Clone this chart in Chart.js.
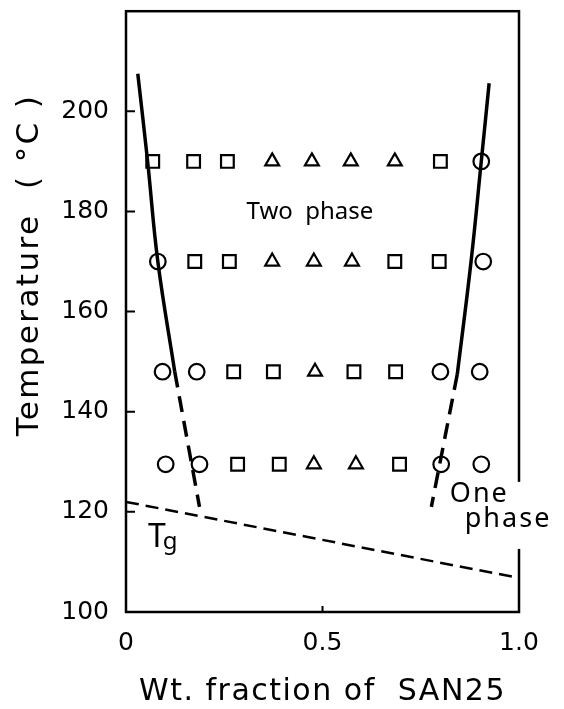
<!doctype html>
<html>
<head>
<meta charset="UTF-8">
<script src="https://cdn.jsdelivr.net/npm/chart.js@4/dist/chart.umd.min.js"></script>
<title>Phase diagram SAN25</title>
<style>
body { margin:0; background:#fff; }
#wrap { width:564px; height:709px; }
</style>
</head>
<body>
<div id="wrap"><canvas id="PhaseChart" width="564" height="709"></canvas></div>
<script>

// measured points, x = wt. fraction of SAN25, y = temperature (C)
var twoPhaseSquares = [
  {x:0.068,y:190},{x:0.172,y:190},{x:0.258,y:190},{x:0.800,y:190},
  {x:0.175,y:170},{x:0.263,y:170},{x:0.684,y:170},{x:0.797,y:170},
  {x:0.274,y:148},{x:0.375,y:148},{x:0.580,y:148},{x:0.686,y:148},
  {x:0.284,y:129.5},{x:0.390,y:129.5},{x:0.696,y:129.5}
];
var twoPhaseTriangles = [
  {x:0.372,y:190},{x:0.473,y:190},{x:0.572,y:190},{x:0.684,y:190},
  {x:0.372,y:170},{x:0.478,y:170},{x:0.575,y:170},
  {x:0.481,y:148},
  {x:0.478,y:129.5},{x:0.585,y:129.5}
];
var onePhaseCircles = [
  {x:0.904,y:190},
  {x:0.081,y:170},{x:0.909,y:170},
  {x:0.093,y:148},{x:0.180,y:148},{x:0.800,y:148},{x:0.900,y:148},
  {x:0.101,y:129.5},{x:0.187,y:129.5},{x:0.802,y:129.5},{x:0.904,y:129.5}
];

// cloud point curves
var leftSolid  = [{x:0.030,y:207.5},{x:0.055,y:190},{x:0.081,y:170},{x:0.124,y:148}];
var leftDash   = [{x:0.124,y:148},{x:0.187,y:121}];
var rightSolid = [{x:0.924,y:205.6},{x:0.904,y:190},{x:0.878,y:170},{x:0.843,y:147.5}];
var rightDash  = [{x:0.843,y:147.5},{x:0.777,y:121}];
var tgLine     = [{x:0,y:122},{x:1,y:106.8}];

var yTicks = [100,120,140,160,180,200];
var xTicks = [0,0.5,1];
var xTickLabels = ['0','0.5','1.0'];

var FONT = "'DejaVu Sans', sans-serif";
var FONT2 = "'Noto Sans', sans-serif";

// frame, inward ticks, text labels
var extras = {
  id: 'extras',
  afterDraw: function(chart) {
    var c = chart.ctx, a = chart.chartArea;
    var xs = chart.scales.x, ys = chart.scales.y;
    c.save();
    c.strokeStyle = '#000';
    c.lineWidth = 2.5;
    c.strokeRect(a.left, a.top, a.right - a.left, a.bottom - a.top);
    c.lineWidth = 2;
    c.beginPath();
    yTicks.forEach(function(v) {
      var py = ys.getPixelForValue(v);
      c.moveTo(a.left, py); c.lineTo(a.left + 9, py);
    });
    xTicks.forEach(function(v) {
      var px = xs.getPixelForValue(v);
      c.moveTo(px, a.bottom); c.lineTo(px, a.bottom - 6);
    });
    c.stroke();

    c.fillStyle = '#000';
    c.textBaseline = 'alphabetic';
    c.font = '24px ' + FONT2;
    c.textAlign = 'center';
    c.fillText('Two  phase', xs.getPixelForValue(0.468), ys.getPixelForValue(178.5));

    // One phase label sits on a white patch over the right frame
    var ox = xs.getPixelForValue(0.824), oy = ys.getPixelForValue(122);
    var px2 = xs.getPixelForValue(0.862), py2 = ys.getPixelForValue(117);
    c.font = '27px ' + FONT2;
    c.letterSpacing = '2px';
    c.textAlign = 'left';
    var w = c.measureText('phase').width;
    c.fillStyle = '#fff';
    c.fillRect(ox - 3, oy - 20, px2 + w - ox + 8, py2 - oy + 42);
    c.fillStyle = '#000';
    c.fillText('One', ox, oy);
    c.fillText('phase', px2, py2);
    c.letterSpacing = '0px';

    // T with subscript g
    var tx = xs.getPixelForValue(0.056), ty = ys.getPixelForValue(113);
    c.font = '32px ' + FONT2;
    c.fillText('T', tx, ty);
    var tw = c.measureText('T').width;
    c.font = '24px ' + FONT2;
    c.fillText('g', tx + tw - 3, ty + 2);

    // x axis title
    c.font = '30px ' + FONT;
    c.letterSpacing = '1.5px';
    c.textAlign = 'center';
    c.fillText('Wt. fraction of  SAN25', (a.left + a.right) / 2, 700);

    // y axis title
    c.font = '31px ' + FONT;
    c.letterSpacing = '2.4px';
    c.textBaseline = 'middle';
    c.translate(30, 265);
    c.rotate(-Math.PI / 2);
    c.fillText('Temperature  ( \u00B0C )', 0, 0);
    c.restore();
  }
};

function marker(data, style, r) {
  return {
    data: data, showLine: false, pointStyle: style,
    pointRadius: r, pointHoverRadius: r,
    pointBorderColor: '#000', pointBackgroundColor: '#fff', pointBorderWidth: 2.2
  };
}
function curve(data, width, dash, tension) {
  return {
    data: data, showLine: true, pointRadius: 0, borderColor: '#000',
    borderWidth: width, borderDash: dash, tension: tension, fill: false,
    borderCapStyle: 'butt'
  };
}

var ctx = document.getElementById('PhaseChart');
var PhaseChart = new Chart(ctx, {
  type: 'scatter',
  data: {
    datasets: [
      curve(tgLine, 2.5, [13, 7], 0),
      curve(leftSolid, 3.5, [], 0.4),
      curve(leftDash, 3.5, [16, 9], 0),
      curve(rightSolid, 3.5, [], 0.4),
      curve(rightDash, 3.5, [16, 9], 0),
      marker(twoPhaseSquares, 'rect', 9),
      marker(twoPhaseTriangles, 'triangle', 8),
      marker(onePhaseCircles, 'circle', 7.8)
    ]
  },
  options: {
    responsive: false,
    animation: false,
    layout: { padding: { top: 10, right: 45, left: 0, bottom: 0 } },
    plugins: { legend: { display: false }, tooltip: { enabled: false } },
    scales: {
      x: {
        type: 'linear', min: 0, max: 1,
        afterFit: function(s) { s.height = 97; s.paddingLeft = 0; s.paddingRight = 0; },
        afterBuildTicks: function(s) { s.ticks = xTicks.map(function(v){ return {value:v}; }); },
        grid: { display: false, drawTicks: false },
        border: { display: false },
        ticks: {
          color: '#000', padding: 16, maxRotation: 0,
          font: { family: FONT, size: 25 },
          callback: function(v) { return xTickLabels[xTicks.indexOf(v)]; }
        }
      },
      y: {
        type: 'linear', min: 100, max: 220,
        afterFit: function(s) { s.width = 126; s.paddingTop = 0; s.paddingBottom = 0; },
        afterBuildTicks: function(s) { s.ticks = yTicks.map(function(v){ return {value:v}; }); },
        grid: { display: false, drawTicks: false },
        border: { display: false },
        ticks: { color: '#000', padding: 17, font: { family: FONT, size: 25 } }
      }
    }
  },
  plugins: [extras]
});

</script>
</body>
</html>
